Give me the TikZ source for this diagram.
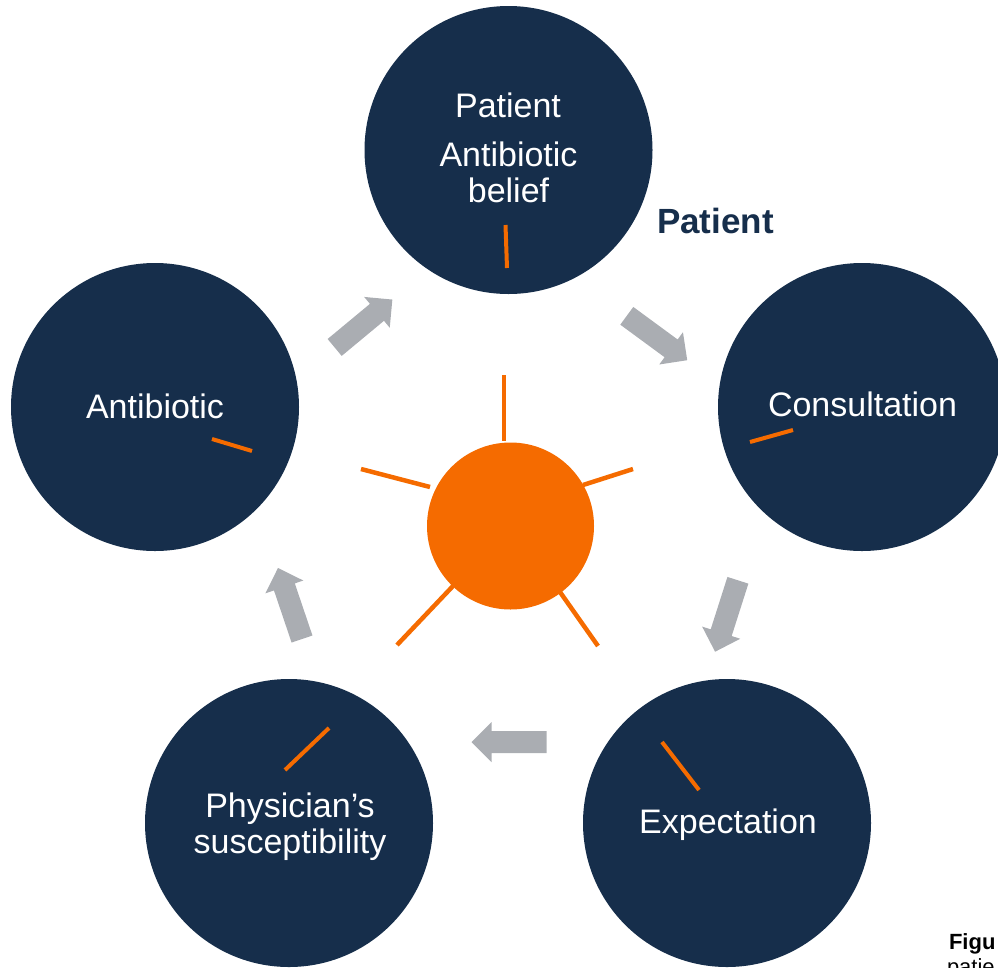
\documentclass[tikz,border=0pt]{standalone}
\usepackage{fontspec}
\setmainfont{Liberation Sans}
\begin{document}
\begin{tikzpicture}[x=1pt,y=-1pt,
  every node/.style={inner sep=0pt,outer sep=0pt},
  stage/.style={circle,fill=navy,minimum size=288pt},
  hub/.style={circle,fill=accent,minimum size=167pt},
  ray/.style={draw=accent,line width=4.5pt},
  tick/.style={draw=accent,line width=4pt},
  label/.style={text=white,font=\fontsize{34}{36}\selectfont,align=center,anchor=base},
  flow/.style={fill=flowgray}]
\definecolor{navy}{HTML}{162E4B}
\definecolor{accent}{HTML}{F56B00}
\definecolor{flowgray}{HTML}{AAADB2}
\useasboundingbox (0,0) rectangle (998,967);
\clip (0,0) rectangle (998,967);

% five stages of the cycle
\node[stage] (belief) at (508.5,150) {};
\node[stage] (consult) at (862,407) {};
\node[stage] (expect) at (727,823) {};
\node[stage] (physician) at (289,823) {};
\node[stage] (antibiotic) at (155,407) {};

% stage labels (base anchor = baseline of the last line)
\node[label] (tBelief1) at (508,117) {Patient};
\node[label] (tBelief2) at (508.5,202) {Antibiotic\\belief};
\node[label] (tConsult) at (862.5,416) {Consultation};
\node[label] (tExpect) at (728,833) {Expectation};
\node[label] (tPhys) at (290,853) {Physician’s\\susceptibility};
\node[label] (tAnti) at (155,418) {Antibiotic};

\node[anchor=base,text=navy,font=\fontsize{35}{36}\selectfont\bfseries] (tPatient) at (715.5,233) {Patient};

% short orange ticks inside the stages
\coordinate (k1a) at (505.5,225); \coordinate (k1b) at (507,268);
\coordinate (k2a) at (750,442);   \coordinate (k2b) at (793,430);
\coordinate (k3a) at (662,742);   \coordinate (k3b) at (699,790);
\coordinate (k4a) at (285,770);   \coordinate (k4b) at (329,728);
\coordinate (k5a) at (212,439);   \coordinate (k5b) at (252,451);
\draw[tick] (k1a) -- (k1b);
\draw[tick] (k2a) -- (k2b);
\draw[tick] (k3a) -- (k3b);
\draw[tick] (k4a) -- (k4b);
\draw[tick] (k5a) -- (k5b);

% central hub with its rays
\node[hub] (core) at (510.5,526) {};
\coordinate (r1a) at (504,375); \coordinate (r1b) at (504,441);
\coordinate (r2a) at (583,485); \coordinate (r2b) at (633,469);
\coordinate (r3a) at (560,592); \coordinate (r3b) at (598,646);
\coordinate (r4a) at (453,586); \coordinate (r4b) at (397,645);
\coordinate (r5a) at (430,487); \coordinate (r5b) at (361,469);
\draw[ray] (r1a) -- (r1b);
\draw[ray] (r2a) -- (r2b);
\draw[ray] (r3a) -- (r3b);
\draw[ray] (r4a) -- (r4b);
\draw[ray] (r5a) -- (r5b);

% block arrows between the stages: centre, direction angle
\newcommand\blockarrow[2]{%
  \fill[flow,shift={(#1)},rotate=#2]
    (-37.5,-11) -- (17.5,-11) -- (17.5,-20) -- (37.5,0) --
    (17.5,20) -- (17.5,11) -- (-37.5,11) -- cycle;}
\blockarrow{363.5,323.5}{39.7}
\blockarrow{657,338}{-36.3}
\blockarrow{726.5,616}{-107.7}
\blockarrow{509,742}{180}
\blockarrow{290,603.5}{108.7}

% caption running off the edge
\node[anchor=base west,font=\fontsize{22}{24}\selectfont\bfseries] (cap1) at (949,949) {Figu};
\node[anchor=base west,font=\fontsize{22}{24}\selectfont] (cap2) at (947,974) {patie};
\end{tikzpicture}
\end{document}
